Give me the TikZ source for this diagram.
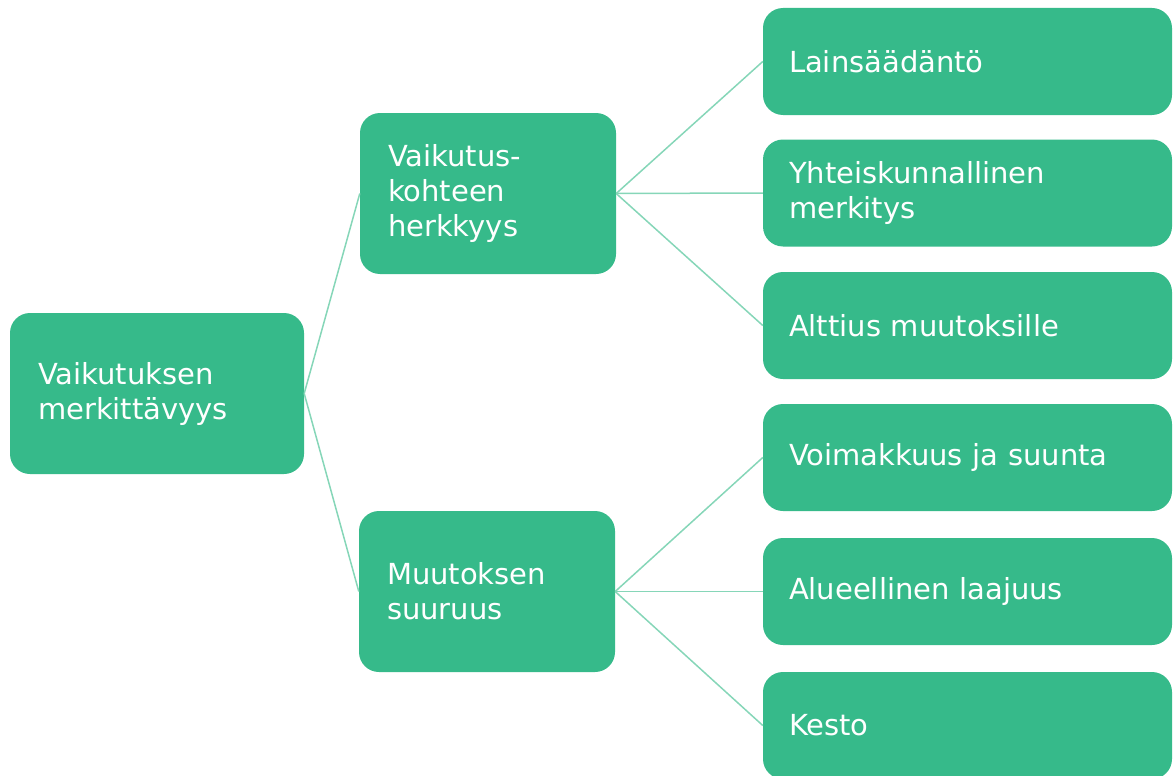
\documentclass[tikz,border=0pt]{standalone}
\usepackage{fontspec}
\setmainfont{DejaVu Sans}
\definecolor{boxgreen}{HTML}{36BA8A}
\definecolor{linegreen}{HTML}{86D6B8}
\begin{document}
\begin{tikzpicture}[x=1pt,y=-1pt,
  box/.style={rectangle, rounded corners=20pt, fill=boxgreen, text=white,
    align=left, font=\fontsize{29}{35}\selectfont, inner ysep=0pt},
  bigbox/.style={box, inner xsep=28pt, minimum height=161pt},
  leafbox/.style={box, inner xsep=26pt, minimum height=107pt, text width=357pt},
  link/.style={draw=linegreen, line width=1.5pt}]
\useasboundingbox (0,0) rectangle (1173,776);
\node[bigbox, text width=238pt] (root) at (157,393.5) {Vaikutuksen\\merkittävyys};
\node[bigbox, text width=200pt] (m1) at (488,193.5) {Vaikutus-\\kohteen\\herkkyys};
\node[bigbox, text width=200pt] (m2) at (487,591.5) {Muutoksen\\suuruus};
\node[leafbox] (l1) at (967.5,61.5) {Lainsäädäntö};
\node[leafbox] (l2) at (967.5,193) {Yhteiskunnallinen\\merkitys};
\node[leafbox] (l3) at (967.5,325.5) {Alttius muutoksille};
\node[leafbox] (l4) at (967.5,457.5) {Voimakkuus ja suunta};
\node[leafbox] (l5) at (967.5,591.5) {Alueellinen laajuus};
\node[leafbox] (l6) at (967.5,725.5) {Kesto};
\draw[link] (root.east) -- (m1.west);
\draw[link] (root.east) -- (m2.west);
\draw[link] (m1.east) -- (l1.west);
\draw[link] (m1.east) -- (l2.west);
\draw[link] (m1.east) -- (l3.west);
\draw[link] (m2.east) -- (l4.west);
\draw[link] (m2.east) -- (l5.west);
\draw[link] (m2.east) -- (l6.west);
\end{tikzpicture}
\end{document}
